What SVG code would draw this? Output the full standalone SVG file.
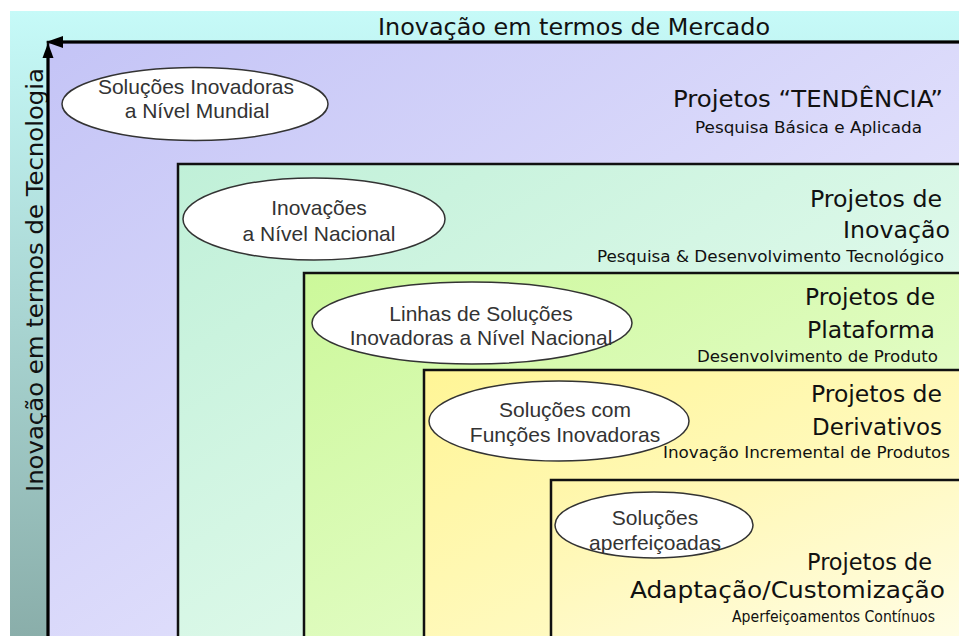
<svg xmlns="http://www.w3.org/2000/svg" width="959" height="636" viewBox="0 0 959 636">
<defs>
<linearGradient id="gBg" x1="0" y1="0" x2="0" y2="1"><stop offset="0" stop-color="#c6faf8"/><stop offset="1" stop-color="#8aaeaa"/></linearGradient>
<linearGradient id="g1" x1="0" y1="0" x2="1" y2="1"><stop offset="0" stop-color="#c4c4f6"/><stop offset="1" stop-color="#f2f0ff"/></linearGradient>
<linearGradient id="g2" x1="0" y1="0" x2="1" y2="1"><stop offset="0" stop-color="#c0f0d8"/><stop offset="1" stop-color="#f2fff6"/></linearGradient>
<linearGradient id="g3" x1="0" y1="0" x2="1" y2="1"><stop offset="0" stop-color="#ccf89a"/><stop offset="1" stop-color="#f0ffe0"/></linearGradient>
<linearGradient id="g4" x1="0" y1="0" x2="1" y2="1"><stop offset="0" stop-color="#fff596"/><stop offset="1" stop-color="#fffde0"/></linearGradient>
<linearGradient id="g5" x1="0" y1="0" x2="1" y2="1"><stop offset="0" stop-color="#fff6a8"/><stop offset="1" stop-color="#fffff4"/></linearGradient>
<style>
.box{stroke:#111;stroke-width:2.5}
.ell{fill:#fff;stroke:#333;stroke-width:1.5}
.et{font-family:"Liberation Sans",Arial,sans-serif;font-size:21px;fill:#333;text-anchor:middle}
.big{font-family:"DejaVu Sans","Noto Sans",sans-serif;font-size:23px;fill:#111}
.sm{font-family:"DejaVu Sans","Noto Sans",sans-serif;font-size:15px;fill:#111}
.ax{font-family:"DejaVu Sans","Noto Sans",sans-serif;font-size:23px;fill:#111}
.axis{stroke:#000;stroke-width:3;fill:none}
</style>
</defs>
<rect x="0" y="0" width="959" height="636" fill="#fff"/>
<rect x="10" y="11" width="949" height="625" fill="url(#gBg)"/>
<text class="ax" x="378" y="35" textLength="392" lengthAdjust="spacingAndGlyphs">Inovação em termos de Mercado</text>
<text class="ax" transform="translate(43,492) rotate(-90)" textLength="424" lengthAdjust="spacingAndGlyphs">Inovação em termos de Tecnologia</text>

<g id="node-tendencia">
<rect class="box" x="48" y="42" width="920" height="610" fill="url(#g1)" stroke="none"/>
<ellipse class="ell" cx="195" cy="104" rx="133" ry="36.5"/>
<text class="et" x="196" y="94">Soluções Inovadoras</text>
<text class="et" x="197" y="118">a Nível Mundial</text>
<text class="big" x="673" y="107" font-size="22" textLength="270" lengthAdjust="spacingAndGlyphs">Projetos “TENDÊNCIA”</text>
<text class="sm" x="695" y="133" textLength="227" lengthAdjust="spacingAndGlyphs">Pesquisa Básica e Aplicada</text>
</g>

<g id="node-inovacao">
<rect class="box" x="178" y="164" width="800" height="490" fill="url(#g2)"/>
<ellipse class="ell" cx="314" cy="219" rx="131" ry="41"/>
<text class="et" x="319" y="215">Inovações</text>
<text class="et" x="319" y="241">a Nível Nacional</text>
<text class="big" x="810" y="207" textLength="132" lengthAdjust="spacingAndGlyphs">Projetos de</text>
<text class="big" x="843" y="238" textLength="107" lengthAdjust="spacingAndGlyphs">Inovação</text>
<text class="sm" x="597" y="262" textLength="347" lengthAdjust="spacingAndGlyphs">Pesquisa &amp; Desenvolvimento Tecnológico</text>
</g>

<g id="node-plataforma">
<rect class="box" x="304" y="273" width="700" height="380" fill="url(#g3)"/>
<ellipse class="ell" cx="472" cy="323" rx="160" ry="41"/>
<text class="et" x="481" y="321">Linhas de Soluções</text>
<text class="et" x="481" y="345">Inovadoras a Nível Nacional</text>
<text class="big" x="805" y="305" textLength="130" lengthAdjust="spacingAndGlyphs">Projetos de</text>
<text class="big" x="807" y="338" textLength="128" lengthAdjust="spacingAndGlyphs">Plataforma</text>
<text class="sm" x="697" y="362" textLength="241" lengthAdjust="spacingAndGlyphs">Desenvolvimento de Produto</text>
</g>

<g id="node-derivativos">
<rect class="box" x="424" y="370" width="600" height="290" fill="url(#g4)"/>
<ellipse class="ell" cx="559" cy="421" rx="130" ry="40"/>
<text class="et" x="565" y="417">Soluções com</text>
<text class="et" x="565" y="442">Funções Inovadoras</text>
<text class="big" x="811" y="402" textLength="131" lengthAdjust="spacingAndGlyphs">Projetos de</text>
<text class="big" x="812" y="435" textLength="130" lengthAdjust="spacingAndGlyphs">Derivativos</text>
<text class="sm" x="663" y="458" textLength="287" lengthAdjust="spacingAndGlyphs">Inovação Incremental de Produtos</text>
</g>

<g id="node-adaptacao">
<rect class="box" x="551" y="480" width="500" height="200" fill="url(#g5)"/>
<ellipse class="ell" cx="654" cy="525" rx="99" ry="33"/>
<text class="et" x="655" y="525">Soluções</text>
<text class="et" x="655" y="550">aperfeiçoadas</text>
<text class="big" x="807" y="570" textLength="125" lengthAdjust="spacingAndGlyphs">Projetos de</text>
<text class="big" x="630" y="598" textLength="315" lengthAdjust="spacingAndGlyphs">Adaptação/Customização</text>
<text class="sm" x="732" y="622" textLength="203" lengthAdjust="spacingAndGlyphs">Aperfeiçoamentos Contínuos</text>
</g>

<g id="connectors">
<line class="axis" x1="58" y1="42" x2="959" y2="42"/>
<line class="axis" x1="48" y1="56" x2="48" y2="636"/>
<polygon points="46,42 63,36 63,48" fill="#000"/>
<polygon points="48,43 42.5,58 53.5,58" fill="#000"/>
</g>
</svg>
